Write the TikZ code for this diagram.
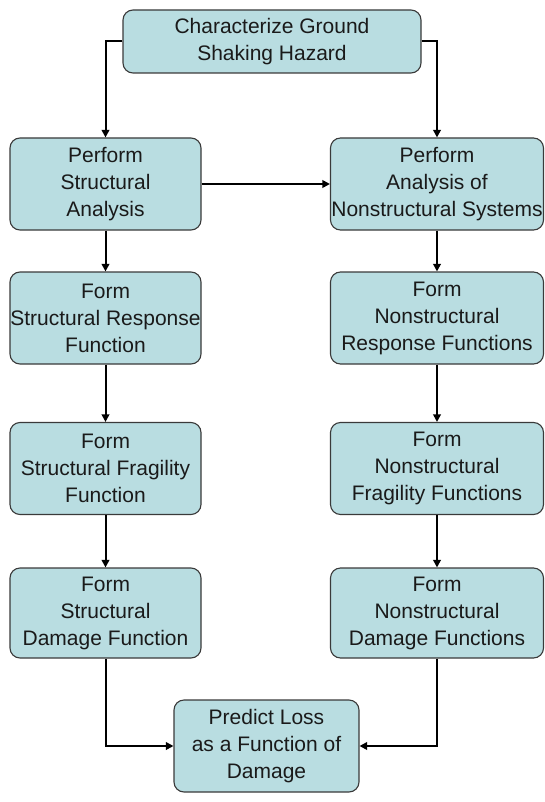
\documentclass[tikz,border=0pt]{standalone}
\usepackage{fontspec}
\setmainfont{Liberation Sans}
\usetikzlibrary{arrows.meta}
\definecolor{boxfill}{HTML}{B9DDE1}
\definecolor{boxline}{HTML}{3A3A3A}
\definecolor{txt}{HTML}{1A1A1A}
\tikzset{
  flowbox/.style={draw=boxline, line width=1.1pt, fill=boxfill, rounded corners=10pt,
    align=center, inner sep=0pt, text=txt, font=\fontsize{21}{27}\selectfont},
  flowarrow/.style={draw=black, line width=2pt, -{Triangle[width=7.5pt,length=7.5pt]}}
}
\begin{document}
\begin{tikzpicture}[x=1pt,y=-1pt]
\useasboundingbox (0,0) rectangle (545,802);
\node[flowbox, minimum width=298pt, minimum height=63pt] (top) at (272,41.5) {Characterize Ground\\Shaking Hazard};
\node[flowbox, minimum width=191pt, minimum height=92pt] (L1) at (105.5,184) {Perform\\Structural\\Analysis};
\node[flowbox, minimum width=213pt, minimum height=92pt] (R1) at (437,184) {Perform\\Analysis of\\Nonstructural Systems};
\node[flowbox, minimum width=191pt, minimum height=92pt] (L2) at (105.5,318) {Form\\Structural Response\\Function};
\node[flowbox, minimum width=213pt, minimum height=92pt] (R2) at (437,318) {Form\\Nonstructural\\Response Functions};
\node[flowbox, minimum width=191pt, minimum height=92pt] (L3) at (105.5,468.5) {Form\\Structural Fragility\\Function};
\node[flowbox, minimum width=213pt, minimum height=92pt] (R3) at (437,468.5) {Form\\Nonstructural\\Fragility Functions};
\node[flowbox, minimum width=191pt, minimum height=90pt] (L4) at (105.5,613) {Form\\Structural\\Damage Function};
\node[flowbox, minimum width=213pt, minimum height=90pt] (R4) at (437,613) {Form\\Nonstructural\\Damage Functions};
\node[flowbox, minimum width=185pt, minimum height=92pt] (bot) at (266.5,746) {Predict Loss\\as a Function of\\Damage};
\draw[flowarrow] (top.west) -| (L1.north);
\draw[flowarrow] (top.east) -| (R1.north);
\draw[flowarrow] (L1.east) -- (R1.west);
\draw[flowarrow] (L1) -- (L2);
\draw[flowarrow] (L2) -- (L3);
\draw[flowarrow] (L3) -- (L4);
\draw[flowarrow] (R1) -- (R2);
\draw[flowarrow] (R2) -- (R3);
\draw[flowarrow] (R3) -- (R4);
\draw[flowarrow] (L4.south) |- (bot.west);
\draw[flowarrow] (R4.south) |- (bot.east);
\end{tikzpicture}
\end{document}
